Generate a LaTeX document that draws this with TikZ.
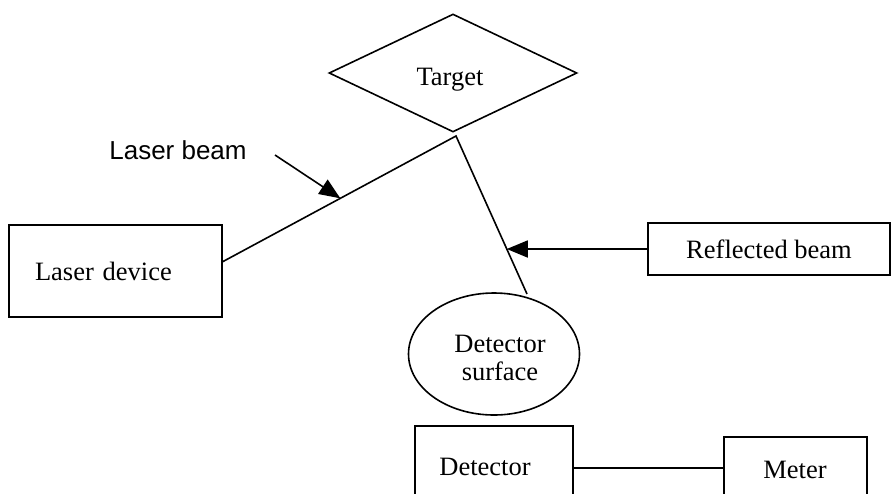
\documentclass[tikz,border=0pt]{standalone}
\usepackage{fontspec}
\setmainfont{Liberation Serif}
\newfontfamily\labelsans{Liberation Sans}
\usetikzlibrary{shapes.geometric,arrows.meta,calc}
\begin{document}
\begin{tikzpicture}[x=1pt,y=-1pt,
  every node/.style={font=\fontsize{26.5}{31}\selectfont},
  line/.style={line width=1.6pt},
  boxnode/.style={draw,line width=1.6pt,rectangle,inner sep=0pt},
  tip/.style={-{Triangle[length=21pt,width=17pt]}}]
\clip (0,0) rectangle (893,493);
\fill[white] (0,0) rectangle (893,493);
% nodes
\node[draw,line width=1.6pt,diamond,minimum width=248pt,minimum height=118pt,inner sep=0pt,aspect=2.1] (target) at (453,73) {};
\node (targettxt) at (450,80) {Target};
\node[boxnode,minimum width=213pt,minimum height=92pt,text width=161pt,align=left,inner xsep=26pt] (laser) at (115.5,271) {Laser device};
\node[boxnode,minimum width=242pt,minimum height=52pt] (refl) at (769,249) {Reflected beam};
\node[draw,line width=1.6pt,ellipse,minimum width=171pt,minimum height=122pt,inner sep=0pt,align=center] (det) at (494,354) {};
\node[align=center] (dettxt) at (500,358) {Detector\\[-3pt]surface};
\node[boxnode,minimum width=158pt,minimum height=84pt] (detector) at (494,468) {};
\node (detectortxt) at (485,467) {Detector};
\node[boxnode,minimum width=143pt,minimum height=73pt] (meter) at (795.5,473.5) {};
\node (metertxt) at (795,470) {Meter};
\node[font=\labelsans\fontsize{26}{30}\selectfont] (lbl) at (178,150) {Laser beam};
% coordinates
\coordinate (beamstart) at ($(laser.north east)!0.40!(laser.south east)$);
\coordinate (peak) at (456,136);
\coordinate (beamend) at (527,294);
\coordinate (lbtail) at (275,155);
\coordinate (lbtip) at ($(beamstart)!0.504!(peak)$);
\coordinate (rtip) at ($(peak)!0.715!(beamend)$);
% connectors
\draw[line] (beamstart) -- (peak) -- (beamend);
\draw[line,tip] (lbtail) -- (lbtip);
\draw[line,tip] (refl.west) -- (refl.west -| rtip);
\draw[line] (detector.east) -- (detector.east -| meter.west);
\end{tikzpicture}
\end{document}
